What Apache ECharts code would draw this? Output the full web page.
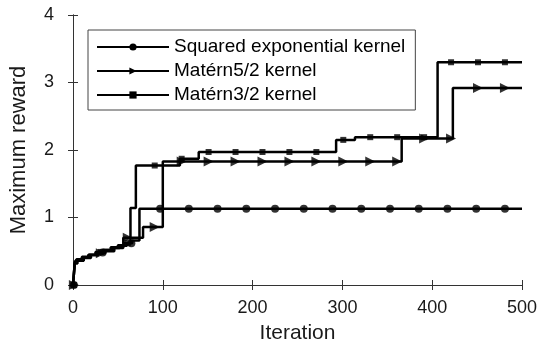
<!DOCTYPE html>
<html>
<head>
<meta charset="utf-8">
<script src="https://cdn.jsdelivr.net/npm/echarts@6/dist/echarts.min.js"></script>
<style>
  html, body { margin: 0; padding: 0; background: #fff; }
  #main { width: 541px; height: 349px; }
</style>
</head>
<body>
<div id="main"></div>
<script>
// series names
var seriesNames = ['Squared exponential kernel', 'Matérn5/2 kernel', 'Matérn3/2 kernel'];

// step change points: iteration where the running max changes, and new value
var seIter = [0, 2, 4, 10, 18, 26, 34, 44, 52, 60, 66, 74, 500];
var seVal  = [0, 0.33, 0.37, 0.41, 0.45, 0.48, 0.52, 0.55, 0.58, 0.62, 0.66, 1.13, 1.13];

var m52Iter = [0, 2, 5, 12, 20, 28, 36, 46, 56, 78, 100, 366, 423, 500];
var m52Val  = [0, 0.32, 0.36, 0.40, 0.44, 0.47, 0.50, 0.55, 0.70, 0.86, 1.83, 2.17, 2.92, 2.92];

var m32Iter = [0, 2, 4, 10, 17, 25, 33, 42, 50, 57, 64, 70, 119, 140, 293, 314, 406, 500];
var m32Val  = [0, 0.34, 0.38, 0.42, 0.45, 0.49, 0.52, 0.56, 0.59, 0.62, 1.14, 1.77, 1.87, 1.97, 2.15, 2.19, 3.30, 3.30];

// iterations where markers are drawn
var seMarkIter  = [1, 33, 65, 97, 129, 161, 193, 225, 257, 289, 321, 353, 385, 417, 449, 481];
var m52MarkIter = [1, 31, 61, 91, 121, 151, 181, 211, 241, 271, 301, 331, 361, 391, 421, 451, 481];
var m32MarkIter = [1, 31, 61, 91, 121, 151, 181, 211, 241, 271, 301, 331, 361, 391, 421, 451, 481];

// axis ticks
var xTicks = [0, 100, 200, 300, 400, 500];
var yTicks = [0, 1, 2, 3, 4];

function pairs(xs, ys) {
  return xs.map(function (x, i) { return [x, ys[i]]; });
}
// value held by the step curve at iteration t
function stepAt(xs, ys, t) {
  var v = ys[0];
  for (var i = 0; i < xs.length; i++) { if (xs[i] <= t) v = ys[i]; }
  return v;
}
function marks(markIter, xs, ys) {
  return markIter.map(function (t) { return [t, stepAt(xs, ys, t)]; });
}

var font = 'Liberation Sans, Arial, sans-serif';
var axisColor = '#333';
var textColor = '#1a1a1a';

function lineSeries(name, xs, ys, symbol, size, rot) {
  return {
    name: name, type: 'line', step: 'end',
    data: pairs(xs, ys),
    showSymbol: false, symbol: symbol, symbolSize: size, symbolRotate: rot || 0,
    lineStyle: { color: '#000', width: 2.5 },
    itemStyle: { color: '#000' },
    z: 2
  };
}
function markSeries(name, data, symbol, size, rot) {
  return {
    name: name + ' markers', type: 'scatter', data: data,
    symbol: symbol, symbolSize: size, symbolRotate: rot || 0,
    itemStyle: { color: '#000' }, z: 3, silent: true
  };
}

var option = {
  animation: false,
  backgroundColor: '#fff',
  textStyle: { fontFamily: font },
  grid: { left: 72, right: 19, top: 15, bottom: 64 },
  legend: {
    data: seriesNames,
    orient: 'vertical', left: 88, top: 30,
    itemWidth: 72, itemHeight: 9, itemGap: 4,
    padding: [7, 10, 5, 8],
    borderColor: '#444', borderWidth: 1, backgroundColor: '#fff',
    textStyle: { fontSize: 19, color: '#000', fontFamily: font, lineHeight: 20 }
  },
  xAxis: [
    {
      type: 'value', min: xTicks[0], max: xTicks[xTicks.length - 1], interval: 100,
      name: 'Iteration', nameLocation: 'middle', nameGap: 38,
      nameTextStyle: { fontSize: 21, color: textColor, fontFamily: font },
      axisLine: { show: true, lineStyle: { color: axisColor, width: 1 } },
      axisTick: { show: true, inside: true, length: 5, lineStyle: { color: axisColor } },
      axisLabel: { fontSize: 18, color: textColor, margin: 14, fontFamily: font },
      splitLine: { show: false }
    },
    {
      type: 'value', position: 'top', min: xTicks[0], max: xTicks[xTicks.length - 1], interval: 100,
      axisLine: { show: true, lineStyle: { color: axisColor, width: 1 } },
      axisTick: { show: true, inside: true, length: 5, lineStyle: { color: axisColor } },
      axisLabel: { show: false }, splitLine: { show: false }
    }
  ],
  yAxis: [
    {
      type: 'value', min: yTicks[0], max: yTicks[yTicks.length - 1], interval: 1,
      name: 'Maximum reward', nameLocation: 'middle', nameGap: 43,
      nameTextStyle: { fontSize: 22, color: textColor, fontFamily: font },
      axisLine: { show: true, lineStyle: { color: axisColor, width: 1 } },
      axisTick: { show: true, inside: true, length: 5, lineStyle: { color: axisColor } },
      axisLabel: { fontSize: 18, color: textColor, margin: 19, fontFamily: font },
      splitLine: { show: false }
    },
    {
      type: 'value', position: 'right', min: yTicks[0], max: yTicks[yTicks.length - 1], interval: 1,
      axisLine: { show: true, lineStyle: { color: axisColor, width: 1 } },
      axisTick: { show: true, inside: true, length: 5, lineStyle: { color: axisColor } },
      axisLabel: { show: false }, splitLine: { show: false }
    }
  ],
  series: [
    lineSeries(seriesNames[0], seIter, seVal, 'circle', 8),
    lineSeries(seriesNames[1], m52Iter, m52Val, 'triangle', 10, -90),
    lineSeries(seriesNames[2], m32Iter, m32Val, 'rect', 6),
    markSeries(seriesNames[0], marks(seMarkIter, seIter, seVal), 'circle', 8),
    markSeries(seriesNames[1], marks(m52MarkIter, m52Iter, m52Val), 'triangle', 10, -90),
    markSeries(seriesNames[2], marks(m32MarkIter, m32Iter, m32Val), 'rect', 6)
  ]
};

var chart = echarts.init(document.getElementById('main'));
chart.setOption(option);
</script>
</body>
</html>
